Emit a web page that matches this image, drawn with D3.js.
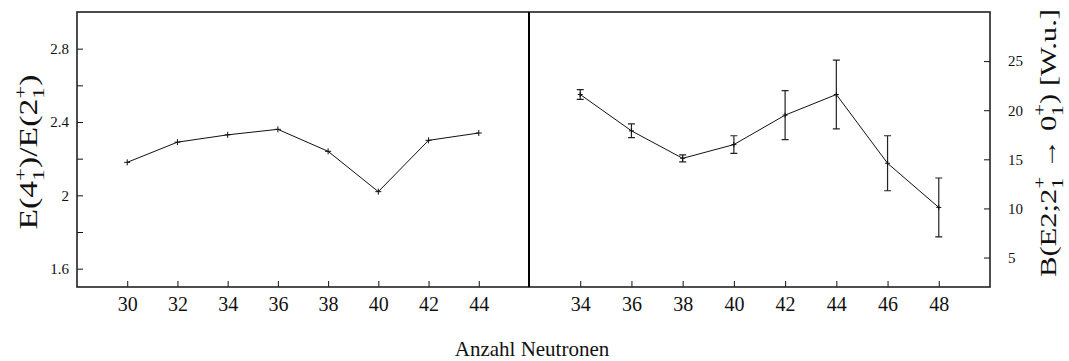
<!DOCTYPE html>
<html>
<head>
<meta charset="utf-8">
<script src="https://cdn.jsdelivr.net/npm/d3@7"></script>
<style>
  html, body { margin: 0; padding: 0; background: #fff; }
  svg { display: block; }
  text { font-family: "Liberation Serif", "Times New Roman", serif; fill: #111; }
</style>
</head>
<body>
<svg id="chart" width="1069" height="361"></svg>
<script>
// Neutron numbers and measured quantities
const ratioNeutrons = [30, 32, 34, 36, 38, 40, 42, 44];
const ratioValues   = [2.18, 2.29, 2.33, 2.36, 2.24, 2.02, 2.30, 2.34];

const be2Neutrons = [34, 36, 38, 40, 42, 44, 46, 48];
const be2Values   = [21.6, 17.9, 15.1, 16.5, 19.5, 21.6, 14.6, 10.1];
const be2Errors   = [0.5, 0.7, 0.35, 0.9, 2.5, 3.5, 2.8, 3.0];

// Axis ticks
const ratioXTicks = [30, 32, 34, 36, 38, 40, 42, 44];
const be2XTicks   = [34, 36, 38, 40, 42, 44, 46, 48];
const ratioYTicks = [1.6, 1.8, 2.0, 2.2, 2.4, 2.6, 2.8];
const ratioYLabeled = [1.6, 2.0, 2.4, 2.8];
const be2YTicks   = [5, 10, 15, 20, 25];

const svg = d3.select("#chart");
const serif = "'Liberation Serif', 'Times New Roman', serif";

const frame = { left: 77, mid: 529, right: 990, top: 12, bottom: 287 };

const xLeft  = d3.scaleLinear().domain([28, 46]).range([frame.left, frame.mid]);
const xRight = d3.scaleLinear().domain([32, 50]).range([frame.mid, frame.right]);
const yLeft  = d3.scaleLinear().domain([1.5, 3.0]).range([frame.bottom, frame.top]);
const yRight = d3.scaleLinear().domain([2, 30]).range([frame.bottom, frame.top]);

const ink = "#111";

// Axes (ticks pointing inward)
function styleAxis(g, fontSize) {
  g.attr("font-family", serif);
  g.select(".domain").remove();
  g.selectAll(".tick line").attr("stroke", ink).attr("stroke-width", 1);
  g.selectAll(".tick text")
    .style("font-family", serif)
    .style("font-size", fontSize + "px")
    .attr("fill", ink);
}

svg.append("g")
  .attr("transform", `translate(0,${frame.bottom})`)
  .call(d3.axisBottom(xLeft).tickValues(ratioXTicks).tickSizeInner(-6).tickSizeOuter(0)
    .tickPadding(9.5).tickFormat(d3.format("d")))
  .call(g => styleAxis(g, 20));

svg.append("g")
  .attr("transform", `translate(0,${frame.bottom})`)
  .call(d3.axisBottom(xRight).tickValues(be2XTicks).tickSizeInner(-6).tickSizeOuter(0)
    .tickPadding(9.5).tickFormat(d3.format("d")))
  .call(g => styleAxis(g, 20));

svg.append("g")
  .attr("transform", `translate(${frame.left},0)`)
  .call(d3.axisLeft(yLeft).tickValues(ratioYTicks).tickSizeInner(-6).tickSizeOuter(0)
    .tickPadding(8)
    .tickFormat(d => ratioYLabeled.some(v => Math.abs(v - d) < 1e-9) ? d3.format("~g")(d) : ""))
  .call(g => styleAxis(g, 15));

svg.append("g")
  .attr("transform", `translate(${frame.right},0)`)
  .call(d3.axisRight(yRight).tickValues(be2YTicks).tickSizeInner(-6).tickSizeOuter(0)
    .tickPadding(18).tickFormat(d3.format("d")))
  .call(g => styleAxis(g, 15));

// Frame and panel divider
svg.append("rect")
  .attr("x", frame.left).attr("y", frame.top)
  .attr("width", frame.right - frame.left).attr("height", frame.bottom - frame.top)
  .attr("fill", "none").attr("stroke", "#222").attr("stroke-width", 1.6);

svg.append("line")
  .attr("x1", frame.mid).attr("x2", frame.mid)
  .attr("y1", frame.top).attr("y2", frame.bottom)
  .attr("stroke", "#000").attr("stroke-width", 2);

// Left panel: energy ratio
const ratioPts = ratioNeutrons.map((n, i) => [xLeft(n), yLeft(ratioValues[i])]);
svg.append("path")
  .attr("d", d3.line()(ratioPts))
  .attr("fill", "none").attr("stroke", ink).attr("stroke-width", 1);

function crosses(pts, half) {
  svg.append("g").selectAll("path").data(pts).join("path")
    .attr("d", p => `M${p[0] - half},${p[1]}H${p[0] + half}M${p[0]},${p[1] - half}V${p[1] + half}`)
    .attr("stroke", ink).attr("stroke-width", 1).attr("fill", "none");
}
crosses(ratioPts, 3);

// Right panel: B(E2) with uncertainties
const be2Pts = be2Neutrons.map((n, i) => [xRight(n), yRight(be2Values[i])]);
svg.append("path")
  .attr("d", d3.line()(be2Pts))
  .attr("fill", "none").attr("stroke", ink).attr("stroke-width", 1);

svg.append("g").selectAll("path").data(be2Neutrons).join("path")
  .attr("d", (n, i) => {
    const x = xRight(n);
    const y1 = yRight(be2Values[i] + be2Errors[i]);
    const y0 = yRight(be2Values[i] - be2Errors[i]);
    const c = 3.5;
    return `M${x},${y1}V${y0}M${x - c},${y1}H${x + c}M${x - c},${y0}H${x + c}`;
  })
  .attr("stroke", "#222").attr("stroke-width", 1.2).attr("fill", "none");

crosses(be2Pts, 2.5);

// Axis titles with stacked sub/superscripts
function mathLabel(parts, fontSize, cx, cy, targetLength) {
  const g = svg.append("g");
  const t = g.append("text")
    .style("font-family", serif)
    .style("font-size", fontSize + "px")
    .attr("fill", ink);
  const small = fontSize * 0.68;
  let pendingDy = 0;
  parts.forEach(p => {
    if (typeof p === "string") {
      t.append("tspan").attr("dy", pendingDy).text(p);
      pendingDy = 0;
    } else {
      const sub = t.append("tspan")
        .attr("dy", fontSize * 0.28)
        .style("font-size", small + "px").text(p.sub);
      const w = sub.node().getComputedTextLength();
      t.append("tspan")
        .attr("dx", -w).attr("dy", -fontSize * 0.72)
        .style("font-size", small + "px").text(p.sup);
      pendingDy = fontSize * 0.44;
    }
  });
  const bb = t.node().getBBox();
  const sx = targetLength / bb.width;
  const cxLocal = bb.x + bb.width / 2;
  const capMid = -fontSize * 0.33;
  t.attr("transform", `scale(${sx},1) translate(${-cxLocal},${-capMid})`);
  g.attr("transform", `translate(${cx},${cy}) rotate(-90)`);
  return g;
}

mathLabel(["E(4", { sub: "1", sup: "+" }, ")/E(2", { sub: "1", sup: "+" }, ")"],
  25, 29, 152, 155);

mathLabel(["B(E2;2", { sub: "1", sup: "+" }, " \u2192 0", { sub: "1", sup: "+" }, ")  [W.u.]"],
  24, 1048, 143, 268);

// Shared x-axis title
svg.append("text")
  .attr("x", 532).attr("y", 356)
  .attr("text-anchor", "middle")
  .style("font-family", serif)
  .style("font-size", "21px")
  .text("Anzahl Neutronen");
</script>
</body>
</html>
